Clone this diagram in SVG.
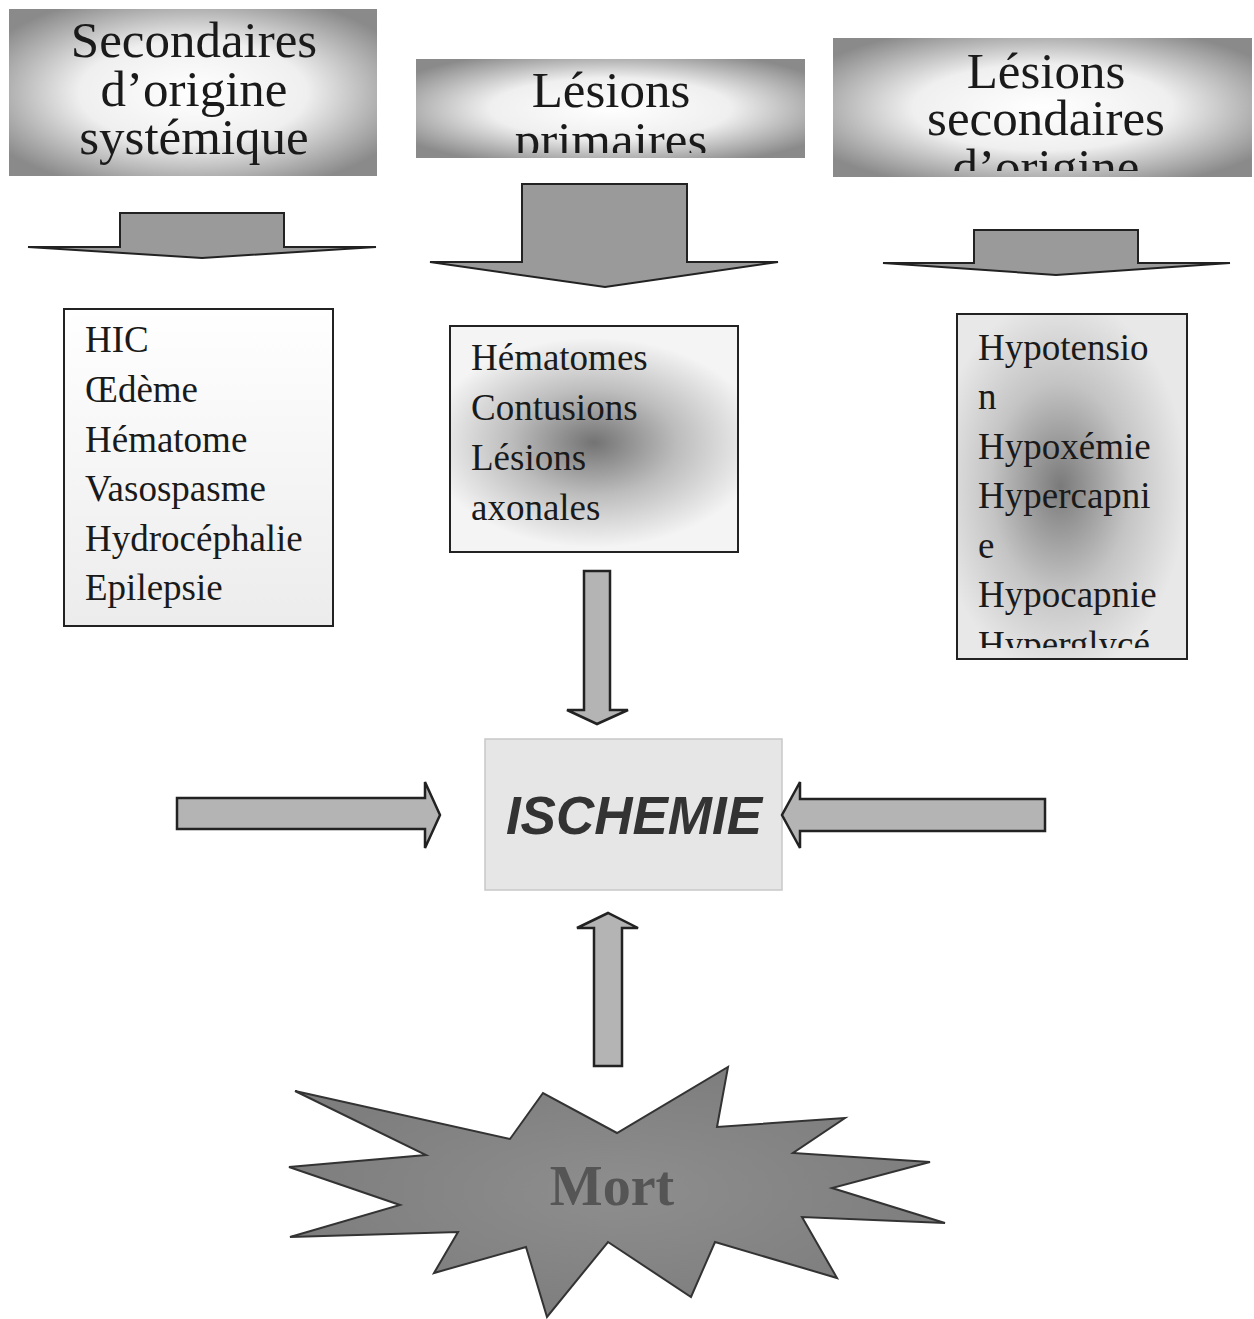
<svg xmlns="http://www.w3.org/2000/svg" width="1254" height="1319" viewBox="0 0 1254 1319">
<defs>
<style>
.hdr{font-family:"Liberation Serif","Times New Roman",serif;font-size:51px;fill:#1a1a1a;text-anchor:middle}
.lst{font-family:"Liberation Serif","Times New Roman",serif;font-size:37px;fill:#1a1a1a}
.arrow{fill:#9a9a9a;stroke:#222;stroke-width:2;stroke-linejoin:miter}
.varrow{fill:#b4b4b4;stroke:#222;stroke-width:2.5}
.box{stroke:#222;stroke-width:2}
</style>
<radialGradient id="hg" cx="50%" cy="50%" r="62%">
<stop offset="0" stop-color="#ffffff"/>
<stop offset="0.5" stop-color="#efefef"/>
<stop offset="1" stop-color="#8a8a8a"/>
</radialGradient>
<radialGradient id="dk" cx="50%" cy="52%" r="58%" gradientTransform="translate(0.5 0.5) scale(1 0.8) translate(-0.5 -0.5)">
<stop offset="0" stop-color="#737373"/>
<stop offset="0.5" stop-color="#bdbdbd"/>
<stop offset="1" stop-color="#f4f4f4"/>
</radialGradient>
<radialGradient id="dk3" cx="45%" cy="50%" r="55%">
<stop offset="0" stop-color="#7a7a7a"/>
<stop offset="0.55" stop-color="#c4c4c4"/>
<stop offset="1" stop-color="#e8e8e8"/>
</radialGradient>
<linearGradient id="lg1" x1="0" y1="0" x2="0" y2="1">
<stop offset="0" stop-color="#ffffff"/>
<stop offset="1" stop-color="#ececec"/>
</linearGradient>
<radialGradient id="star" cx="50%" cy="50%" r="50%">
<stop offset="0" stop-color="#8e8e8e"/>
<stop offset="1" stop-color="#7e7e7e"/>
</radialGradient>
<clipPath id="c2"><rect x="416" y="59" width="389" height="94"/></clipPath>
<clipPath id="c3"><rect x="833" y="38" width="419" height="133"/></clipPath>
<clipPath id="cb3"><rect x="957" y="314" width="230" height="334"/></clipPath>
</defs>
<rect width="1254" height="1319" fill="#ffffff"/>

<g id="header-systemique">
<rect x="9" y="9" width="368" height="167" fill="url(#hg)"/>
<text class="hdr" x="194" y="57">Secondaires</text>
<text class="hdr" x="194" y="106">d’origine</text>
<text class="hdr" x="194" y="154">systémique</text>
</g>

<g id="header-primaires">
<rect x="416" y="59" width="389" height="99" fill="url(#hg)"/>
<g clip-path="url(#c2)">
<text class="hdr" x="611" y="107">Lésions</text>
<text class="hdr" x="611" y="157">primaires</text>
</g>
</g>

<g id="header-secondaires">
<rect x="833" y="38" width="419" height="139" fill="url(#hg)"/>
<g clip-path="url(#c3)">
<text class="hdr" x="1046" y="88">Lésions</text>
<text class="hdr" x="1046" y="135">secondaires</text>
<text class="hdr" x="1046" y="184">d’origine</text>
</g>
</g>

<g id="box-systemique">
<rect class="box" x="64" y="309" width="269" height="317" fill="url(#lg1)"/>
<text class="lst" x="85" y="352">HIC</text>
<text class="lst" x="85" y="402">Œdème</text>
<text class="lst" x="85" y="452">Hématome</text>
<text class="lst" x="85" y="501">Vasospasme</text>
<text class="lst" x="85" y="551">Hydrocéphalie</text>
<text class="lst" x="85" y="600">Epilepsie</text>
</g>

<g id="box-primaires">
<rect class="box" x="450" y="326" width="288" height="226" fill="url(#dk)"/>
<text class="lst" x="471" y="370">Hématomes</text>
<text class="lst" x="471" y="420">Contusions</text>
<text class="lst" x="471" y="470">Lésions</text>
<text class="lst" x="471" y="520">axonales</text>
</g>

<g id="box-secondaires">
<rect class="box" x="957" y="314" width="230" height="345" fill="url(#dk3)"/>
<g clip-path="url(#cb3)">
<text class="lst" x="978" y="360">Hypotensio</text>
<text class="lst" x="978" y="409">n</text>
<text class="lst" x="978" y="459">Hypoxémie</text>
<text class="lst" x="978" y="508">Hypercapni</text>
<text class="lst" x="978" y="558">e</text>
<text class="lst" x="978" y="607">Hypocapnie</text>
<text class="lst" x="978" y="657">Hyperglycé</text>
</g>
</g>

<g id="ischemie">
<rect x="485" y="739" width="297" height="151" fill="#e6e6e6" stroke="#c8c8c8" stroke-width="1.5"/>
<text x="634" y="834" font-family="'Liberation Sans',Arial,sans-serif" font-size="53" font-weight="bold" font-style="italic" fill="#333" text-anchor="middle">ISCHEMIE</text>
</g>

<g id="mort">
<polygon points="295,1091 510,1139 543,1093 617,1133 728,1067 717,1127 845,1118 793,1153 930,1162 832,1188 945,1223 802,1217 837,1278 715,1242 691,1297 608,1242 547,1317 526,1247 434,1273 458,1232 290,1237 400,1205 289,1167 426,1155" fill="url(#star)" stroke="#333" stroke-width="2" stroke-linejoin="miter"/>
<text x="612" y="1205" font-family="'Liberation Serif','Times New Roman',serif" font-size="56" font-weight="bold" fill="#555" text-anchor="middle">Mort</text>
</g>

<g id="connectors">
<polygon class="arrow" points="120,213 284,213 284,247 376,247 202,258 28,247 120,247"/>
<polygon class="arrow" points="522,184 687,184 687,262 778,262 605,287 430,262 522,262"/>
<polygon class="arrow" points="974,230 1138,230 1138,263 1230,263 1056,275 883,263 974,263"/>
<polygon class="varrow" points="584,571 610,571 610,710 628,710 597,724 567,710 584,710"/>
<polygon class="varrow" points="594,1066 622,1066 622,928 638,928 608,913 577,928 594,928"/>
<polygon class="varrow" points="177,798 425,798 425,782 440,815 425,848 425,829 177,829"/>
<polygon class="varrow" points="1045,799 800,799 800,782 782,815 800,848 800,831 1045,831"/>
</g>
</svg>
